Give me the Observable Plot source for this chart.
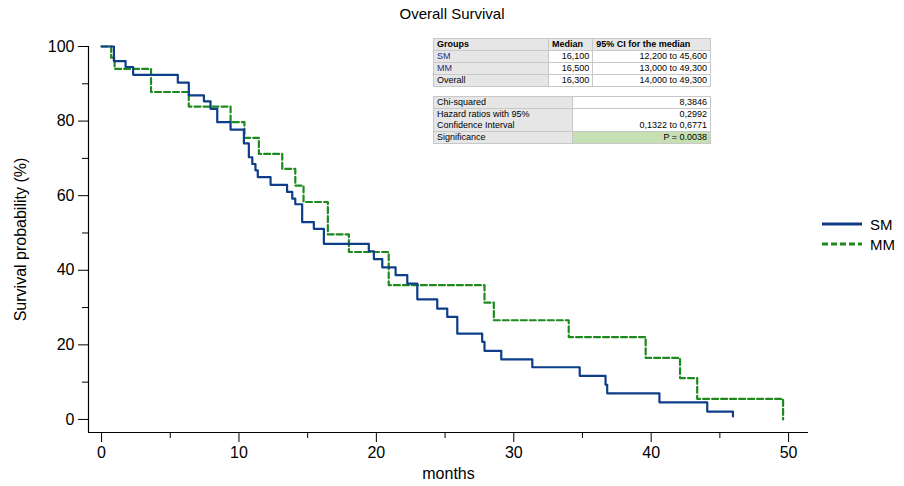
<!DOCTYPE html>
<html lang="en">
<head>
<meta charset="UTF-8">
<title>Overall Survival</title>
<script src="https://d3js.org/d3.v7.min.js"></script>
<script src="https://cdn.jsdelivr.net/npm/@observablehq/plot@0.6"></script>
<style>
  body { margin: 0; font-family: "Liberation Sans", Arial, sans-serif; background: #fff; }
  #wrap { position: relative; width: 904px; height: 486px; }
  #title { position: absolute; top: 5px; left: 0; width: 904px; text-align: center; font-size: 15px; }
  #chart { position: absolute; top: 28px; left: 0; }
  #legend { position: absolute; left: 822px; top: 214px; font-size: 15px; }
  #legend div { display: flex; align-items: center; height: 20px; }
  #legend svg { margin-right: 8px; }
  .tbl { position: absolute; left: 433px; border-collapse: collapse; font-size: 9px; }
  .tbl td { border: 1px solid #c8c8c8; padding: 0 3px; height: 11px; line-height: 11px; }
  .tbl .h { background: #e6e6e6; font-weight: bold; }
  .tbl .g { background: #e6e6e6; }
  .tbl .r { text-align: right; }
  .tbl .b { color: #2b2b80; }
</style>
</head>
<body>
<div id="wrap">
  <div id="title">Overall Survival</div>
  <div id="chart"></div>
  <table class="tbl" style="top:38px;width:278px">
    <tr><td class="h" style="width:108px">Groups</td><td class="h">Median</td><td class="h">95% CI for the median</td></tr>
    <tr><td class="g b">SM</td><td class="r">16,100</td><td class="r">12,200 to 45,600</td></tr>
    <tr><td class="g b">MM</td><td class="r">16,500</td><td class="r">13,000 to 49,300</td></tr>
    <tr><td class="g">Overall</td><td class="r">16,300</td><td class="r">14,000 to 49,300</td></tr>
  </table>
  <table class="tbl" style="top:96px;width:278px">
    <tr><td class="g" style="width:132px">Chi-squared</td><td class="r">8,3846</td></tr>
    <tr><td class="g">Hazard ratios with 95%<br>Confidence Interval</td><td class="r">0,2992<br>0,1322 to 0,6771</td></tr>
    <tr><td class="g">Significance</td><td class="r" style="background:#c6e0b4">P = 0.0038</td></tr>
  </table>
  <div id="legend">
    <div><svg width="40" height="4"><line x1="0" x2="40" y1="2" y2="2" stroke="#0e3d8a" stroke-width="3"/></svg>SM</div>
    <div><svg width="40" height="4"><line x1="0" x2="40" y1="2" y2="2" stroke="#1e8a1e" stroke-width="3" stroke-dasharray="6,3"/></svg>MM</div>
  </div>
</div>
<script>
const smTime = [0, 0.9, 1.75, 2.3, 5.55, 6.35, 7.45, 7.93, 8.42, 9.39, 10.36, 10.72, 10.97, 11.2, 11.37, 12.3, 13.5, 13.88, 14.1, 14.6, 15.45, 16.18, 19.45, 19.82, 20.43, 21.4, 22.25, 22.98, 24.43, 25.16, 25.89, 27.7, 27.87, 29.09, 31.35, 34.8, 36.68, 36.8, 40.6, 44.08, 45.95];
const smSurv = [100, 96.1, 94.5, 92.4, 90.3, 86.9, 85.3, 83.3, 79.7, 77.7, 74, 70.3, 68.5, 66.8, 65, 62.9, 61, 59.2, 57.7, 52.9, 51.1, 47.1, 45.1, 43, 40.8, 38.7, 36.4, 32.2, 29.7, 27.5, 23, 20.8, 18.4, 16.1, 14, 11.7, 9.3, 7, 4.6, 2.1, 0.8];
const mmTime = [0, 0.7, 0.95, 3.6, 6.35, 9.39, 10.4, 11.45, 13.15, 14.1, 14.7, 16.47, 18, 20.9, 27.87, 28.55, 34, 39.6, 42.1, 43.35, 49.6];
const mmSurv = [100, 97, 94, 87.8, 83.9, 79.7, 75.5, 71.2, 67.2, 62.7, 58.3, 49.6, 44.9, 36, 31.3, 26.6, 22.1, 16.5, 11.1, 5.5, 0];
const yMajor = [0, 20, 40, 60, 80, 100];
const yMinor = [10, 30, 50, 70, 90];
const xMajor = [0, 10, 20, 30, 40, 50];
const xMinor = [5, 15, 25, 35, 45];

const sm = smTime.map((t, i) => ({t, s: smSurv[i]}));
const mm = mmTime.map((t, i) => ({t, s: mmSurv[i]}));
const xMin = -0.95, xMax = 51.45, yMin = -3.5, yMax = 100;

const plot = Plot.plot({
  width: 904, height: 458,
  marginLeft: 88, marginRight: 96, marginTop: 18, marginBottom: 54,
  style: {fontFamily: "Liberation Sans, Arial, sans-serif", fontSize: "15px", color: "#000"},
  x: {domain: [xMin, xMax]},
  y: {domain: [yMin, yMax]},
  marks: [
    Plot.ruleY([yMin], {x1: xMin, x2: xMax, stroke: "#000", strokeWidth: 1.2}),
    Plot.ruleX([xMin], {y1: yMin, y2: yMax, stroke: "#000", strokeWidth: 1.2}),
    Plot.axisY({ticks: yMajor, tickSize: 10, tickPadding: 4, label: "Survival probability (%)", labelAnchor: "center", labelArrow: "none", labelOffset: 74, fontSize: 16}),
    Plot.axisY({ticks: yMinor, tickSize: 6, text: null, label: null}),
    Plot.axisX({ticks: xMajor, tickSize: 10, tickPadding: 4, label: "months", labelAnchor: "center", labelArrow: "none", labelOffset: 46, fontSize: 16}),
    Plot.axisX({ticks: xMinor, tickSize: 6, text: null, label: null}),
    Plot.line(mm, {x: "t", y: "s", curve: "step-after", stroke: "#1e8a1e", strokeWidth: 2.2, strokeDasharray: "6,3"}),
    Plot.line(sm, {x: "t", y: "s", curve: "step-after", stroke: "#0e3d8a", strokeWidth: 2.2})
  ]
});
document.getElementById("chart").replaceChildren(plot);
</script>
</body>
</html>
